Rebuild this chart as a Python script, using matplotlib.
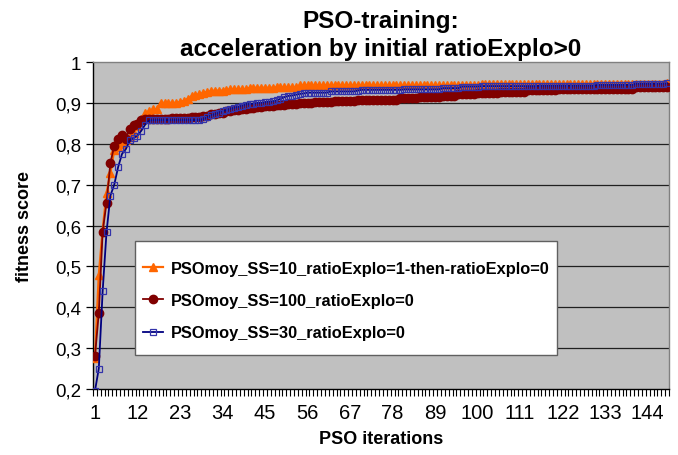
import matplotlib
matplotlib.use('Agg')
import matplotlib.pyplot as plt
from matplotlib.patches import Rectangle
import numpy as np

plt.rcParams['font.family'] = ['Liberation Sans', 'DejaVu Sans']

# best fitness per PSO iteration
ss10_explo = [
    0.277, 0.48, 0.59, 0.68, 0.728, 0.785, 0.793, 0.80, 0.81, 0.817,
    0.827, 0.843, 0.86, 0.875, 0.88, 0.884, 0.885, 0.90, 0.90, 0.90,
    0.90, 0.90, 0.902, 0.905, 0.91, 0.916, 0.919, 0.921, 0.924, 0.927,
    0.929, 0.93, 0.93, 0.93, 0.931, 0.933, 0.933, 0.933, 0.933, 0.933,
    0.937, 0.937, 0.937, 0.937, 0.937, 0.937, 0.937, 0.938, 0.938, 0.938,
    0.938, 0.938, 0.938, 0.943, 0.943, 0.943, 0.943, 0.943, 0.943, 0.943,
    0.943, 0.943, 0.943, 0.943, 0.943, 0.943, 0.943, 0.943, 0.943, 0.943,
    0.943, 0.943, 0.943, 0.943, 0.943, 0.943, 0.943, 0.943, 0.943, 0.943,
    0.943, 0.943, 0.943, 0.943, 0.943, 0.943, 0.943, 0.943, 0.943, 0.943,
    0.943, 0.943, 0.943, 0.943, 0.943, 0.943, 0.943, 0.943, 0.943, 0.943,
    0.945, 0.945, 0.945, 0.945, 0.945, 0.945, 0.945, 0.945, 0.945, 0.945,
    0.945, 0.945, 0.945, 0.945, 0.945, 0.945, 0.945, 0.945, 0.945, 0.945,
    0.945, 0.945, 0.945, 0.945, 0.945, 0.945, 0.945, 0.945, 0.945, 0.945,
    0.947, 0.947, 0.947, 0.947, 0.947, 0.947, 0.947, 0.947, 0.947, 0.947,
    0.947, 0.947, 0.947, 0.947, 0.947, 0.947, 0.947, 0.947, 0.948,
]

ss100 = [
    0.28, 0.386, 0.585, 0.656, 0.753, 0.795, 0.811, 0.822, 0.811, 0.837,
    0.847, 0.849, 0.859, 0.86, 0.86, 0.86, 0.86, 0.86, 0.86, 0.86,
    0.862, 0.862, 0.862, 0.862, 0.862, 0.865, 0.865, 0.865, 0.868, 0.868,
    0.872, 0.872, 0.876, 0.876, 0.879, 0.879, 0.882, 0.882, 0.884, 0.884,
    0.887, 0.887, 0.89, 0.89, 0.892, 0.892, 0.892, 0.894, 0.894, 0.894,
    0.897, 0.897, 0.897, 0.90, 0.90, 0.90, 0.90, 0.902, 0.902, 0.902,
    0.902, 0.902, 0.904, 0.904, 0.904, 0.904, 0.904, 0.904, 0.906, 0.906,
    0.906, 0.906, 0.906, 0.908, 0.908, 0.908, 0.908, 0.908, 0.908, 0.912,
    0.912, 0.912, 0.912, 0.912, 0.914, 0.914, 0.914, 0.914, 0.914, 0.914,
    0.917, 0.917, 0.917, 0.917, 0.921, 0.921, 0.921, 0.921, 0.921, 0.924,
    0.924, 0.924, 0.924, 0.924, 0.924, 0.927, 0.927, 0.927, 0.927, 0.927,
    0.927, 0.927, 0.931, 0.931, 0.931, 0.931, 0.931, 0.931, 0.931, 0.931,
    0.933, 0.933, 0.933, 0.933, 0.933, 0.933, 0.933, 0.933, 0.933, 0.933,
    0.935, 0.935, 0.935, 0.935, 0.935, 0.935, 0.935, 0.935, 0.935, 0.935,
    0.938, 0.938, 0.938, 0.938, 0.938, 0.938, 0.938, 0.938, 0.938,
]

ss30 = [
    0.195, 0.25, 0.44, 0.584, 0.673, 0.70, 0.743, 0.775, 0.787, 0.808,
    0.814, 0.82, 0.832, 0.847, 0.857, 0.858, 0.858, 0.858, 0.858, 0.858,
    0.858, 0.858, 0.858, 0.858, 0.858, 0.858, 0.858, 0.858, 0.86, 0.865,
    0.87, 0.872, 0.876, 0.88, 0.882, 0.885, 0.888, 0.89, 0.893, 0.896,
    0.897, 0.898, 0.90, 0.90, 0.902, 0.903, 0.904, 0.906, 0.91, 0.914,
    0.917, 0.918, 0.92, 0.922, 0.923, 0.925, 0.925, 0.925, 0.925, 0.925,
    0.925, 0.928, 0.928, 0.928, 0.928, 0.928, 0.928, 0.928, 0.93, 0.932,
    0.932, 0.932, 0.932, 0.932, 0.932, 0.932, 0.932, 0.932, 0.932, 0.932,
    0.933, 0.933, 0.933, 0.933, 0.933, 0.933, 0.933, 0.933, 0.933, 0.933,
    0.936, 0.936, 0.936, 0.936, 0.936, 0.94, 0.94, 0.94, 0.94, 0.94,
    0.941, 0.941, 0.941, 0.941, 0.941, 0.941, 0.941, 0.941, 0.941, 0.941,
    0.941, 0.941, 0.941, 0.941, 0.941, 0.942, 0.942, 0.942, 0.942, 0.942,
    0.942, 0.942, 0.942, 0.942, 0.942, 0.942, 0.942, 0.942, 0.942, 0.942,
    0.944, 0.944, 0.944, 0.944, 0.944, 0.944, 0.944, 0.944, 0.944, 0.944,
    0.947, 0.947, 0.947, 0.947, 0.947, 0.947, 0.947, 0.947, 0.948,
]

labels = ['PSOmoy_SS=10_ratioExplo=1-then-ratioExplo=0',
          'PSOmoy_SS=100_ratioExplo=0',
          'PSOmoy_SS=30_ratioExplo=0']

iters = np.arange(1, len(ss10_explo) + 1)

fig = plt.figure(figsize=(6.78, 4.56), dpi=100)
ax = fig.add_axes([93/678, 66/456, 576/678, 327/456])
ax.set_facecolor('#c0c0c0')

ax.plot(iters, ss10_explo, color='#ff6600', lw=1.6, marker='^', ms=5.5,
        mec='#ff6600', label=labels[0], zorder=3)
ax.plot(iters, ss100, color='#800000', lw=1.3, marker='o', ms=6,
        mec='#800000', label=labels[1], zorder=4)
ax.plot(iters, ss30, color='#000080', lw=1.3, marker='s', ms=5,
        mfc='none', mec='#3333aa', mew=0.9, label=labels[2], zorder=5)

ax.set_xlim(0.5, len(iters) + 0.5)
ax.set_ylim(0.2, 1.0)

yt = np.arange(0.2, 1.01, 0.1)
ax.set_yticks(yt)
ax.set_yticklabels(['0,2', '0,3', '0,4', '0,5', '0,6', '0,7', '0,8', '0,9', '1'])
for v in yt[1:-1]:
    ax.axhline(v, color='#202020', lw=0.9, zorder=1)

ax.set_xticks(iters[::11])
ax.set_xticks(np.arange(0.5, len(iters) + 1, 1), minor=True)
ax.tick_params(axis='x', which='major', length=0, pad=10, labelsize=14.5)
ax.tick_params(axis='x', which='minor', length=5, width=0.8)
ax.tick_params(axis='y', length=5, width=0.9, labelsize=13.5)

ax.spines['left'].set_color('black')
ax.spines['bottom'].set_color('black')
ax.spines['top'].set_color('#808080')
ax.spines['right'].set_color('#808080')
for s in ax.spines.values():
    s.set_linewidth(1.0)

ax.set_xlabel('PSO iterations', fontsize=13, fontweight='bold', labelpad=6)
ax.set_ylabel('fitness score', fontsize=13, fontweight='bold', labelpad=16)
ax.set_title('PSO-training:\nacceleration by initial ratioExplo>0',
             fontsize=17.5, fontweight='bold', pad=5, linespacing=1.3)

# legend box (drawn separately: Excel pads it more vertically than sideways)
box = Rectangle((42/576, 34/327), 422/576, 114/327, transform=ax.transAxes,
                facecolor='white', edgecolor='#606060', lw=1.0, zorder=6)
ax.add_patch(box)
leg = ax.legend(loc='upper left', bbox_to_anchor=(50/576, 128/327),
                prop={'weight': 'bold', 'size': 11.8}, frameon=False,
                borderpad=0, labelspacing=1.05, handlelength=1.25,
                handletextpad=0.45, borderaxespad=0)
leg.set_zorder(7)

fig.savefig('out.png', dpi=100)
